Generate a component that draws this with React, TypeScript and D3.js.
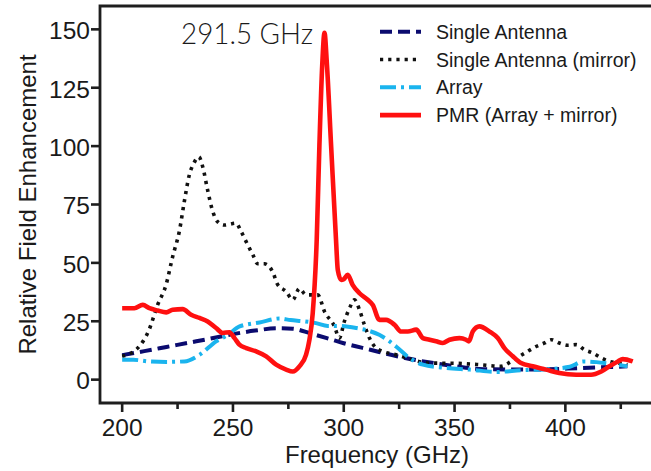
import React from "react";
import * as d3 from "d3";

// ---- data ----
const xTicks = [200, 250, 300, 350, 400];
const xMinorTicks = [225, 275, 325, 375, 425];
const yTicks = [0, 25, 50, 75, 100, 125, 150];

const singleFreq = [200, 210, 220, 230, 240, 250, 260, 270, 277, 285, 293, 300, 312, 324, 336, 350, 363, 385, 408, 428];
const singleVal = [10.5, 12.2, 14, 15.8, 17.6, 19.5, 21, 22, 21.8, 19.8, 17.6, 15.6, 12.8, 10, 7.8, 5.8, 4.5, 4.3, 5, 5.7];

const mirrorFreq = [200, 207, 212, 216, 219.8, 222.8, 225.9, 228, 230.4, 232.3, 234.6, 236.4, 238.6, 240.9, 243, 246, 251.4, 253.7, 256, 259, 261.2, 264.2, 268, 270, 274, 277, 280, 283, 288.3, 291.3, 295.8, 298, 300.3, 302.6, 304.8, 307.1, 309.3, 311.6, 313.9, 317.6, 323.6, 331.1, 338.7, 350, 360, 371, 375.5, 379.3, 383, 386.8, 390.6, 393.6, 397.3, 401.1, 404.9, 408.6, 412.4, 416.2, 419.9, 423.7, 428];
const mirrorVal = [10, 13.5, 21, 32, 40.6, 52.7, 64, 76, 88, 92.6, 95.4, 91, 81, 72, 67.7, 66.2, 67, 63.4, 59, 53.4, 49.6, 49.6, 46, 41, 37.7, 34.2, 39, 36.3, 36.3, 29.2, 22.8, 17.8, 25, 30.6, 34.2, 29.9, 23.5, 17.8, 14.2, 12.1, 10.7, 8.5, 7.1, 7, 6.5, 5.7, 7.8, 10, 12.1, 14.2, 15.7, 17.1, 15.7, 14.7, 15, 12.8, 11.4, 9.3, 7.8, 7.1, 6.4];

const arrayFreq = [200, 205, 212, 220, 228, 235, 242.4, 247.7, 253, 262, 271, 276, 282, 287.5, 292.8, 297, 305.6, 311, 316, 323.6, 329.6, 335.7, 346, 357, 369, 380, 392, 402, 408, 414, 420, 428];
const arrayVal = [8.5, 8.5, 7.8, 7.6, 7.8, 10.7, 16.4, 19.2, 22.8, 24.5, 26.2, 25.5, 25, 24.2, 23, 23, 22.1, 21, 19.2, 14.2, 9.3, 6.4, 5, 4.3, 3.3, 4, 4.5, 5.5, 7.8, 7.5, 6.8, 5.7];

const pmrFreq = [200, 205.5, 209.3, 212.3, 216, 219.9, 222.8, 227.3, 231.1, 234.9, 238.6, 242.4, 245.4, 248.4, 250.7, 252.9, 256, 260.5, 265, 269.5, 274, 277, 280, 283, 284.5, 286, 287.8, 289, 290.3, 291.3, 292.4, 294.3, 296.5, 297.3, 298.8, 300, 301.8, 304, 307.1, 310.8, 313.1, 316.1, 319.1, 322.9, 325.9, 328.9, 332.7, 335.7, 338.7, 341.7, 344.7, 347.7, 352.2, 355.2, 356.5, 358.2, 361.2, 365.8, 369.5, 372.5, 376.3, 380, 385.3, 391.3, 397.3, 404.9, 411.6, 416.2, 419.9, 423.7, 425.9, 430.4];
const pmrVal = [30.6, 30.6, 32, 30.6, 29.6, 28.8, 29.9, 30.2, 27.8, 26.4, 24.9, 22.1, 20, 20.3, 17.8, 15, 13.5, 12.1, 10, 6.4, 4.3, 3.5, 5.7, 10.7, 17, 28.5, 60, 100, 135, 148.5, 135, 100, 60, 47, 42.7, 43, 44.9, 40.6, 37, 34.2, 32, 25.6, 25.6, 23.5, 20.6, 20.6, 21.4, 17.8, 17.1, 16.4, 15.7, 17.1, 17.8, 17.1, 16.4, 20.6, 22.8, 20.6, 17.8, 13.5, 10, 7.1, 5.7, 4.3, 2.8, 2.1, 2.1, 3.5, 5.7, 7.8, 8.8, 7.8];

const seriesNames = ["Single Antenna", "Single Antenna (mirror)", "Array", "PMR (Array + mirror)"];
const annotation = "291.5 GHz";
const xTitle = "Frequency (GHz)";
const yTitle = "Relative Field Enhancement";

// ---- styles ----
const W = 651;
const H = 471;
const left = 100;
const top = 6;
const bottom = 403;
const right = 654;
const FONT = "'Liberation Sans', Arial, Helvetica, sans-serif";
const AXIS = "#1e1e1e";

const styles = [
  { color: "#0b0b6f", width: 4, dash: "12 6" },
  { color: "#111111", width: 3.6, dash: "3.2 5" },
  { color: "#1ab4ee", width: 4, dash: "16 5 3 5" },
  { color: "#ff1010", width: 4.6, dash: "none" },
];

export default function App() {
  const x = d3.scaleLinear().domain([190, 440]).range([left, right]);
  const y = d3.scaleLinear().domain([-10, 160]).range([bottom, top]);

  const line = d3
    .line<[number, number]>()
    .x((d) => x(d[0]))
    .y((d) => y(d[1]))
    .curve(d3.curveMonotoneX);

  const zip = (f: number[], v: number[]) => f.map((fv, i) => [fv, v[i]] as [number, number]);
  const data = [
    zip(singleFreq, singleVal),
    zip(mirrorFreq, mirrorVal),
    zip(arrayFreq, arrayVal),
    zip(pmrFreq, pmrVal),
  ];

  const legendX0 = 380;
  const legendX1 = 421;
  const legendTextX = 436;
  const legendY0 = 31.7;
  const legendDy = 27.8;

  return (
    <svg
      width={W}
      height={H}
      style={{ position: "absolute", left: 0, top: 0, background: "#fff" }}
      fontFamily={FONT}
    >
      <rect x={0} y={0} width={W} height={H} fill="#fff" />
      <defs>
        <clipPath id="plot">
          <rect x={left} y={top} width={right - left} height={bottom - top} />
        </clipPath>
      </defs>

      {/* series */}
      <g clipPath="url(#plot)">
        {data.map((d, i) => (
          <path
            key={i}
            d={line(d) || ""}
            fill="none"
            stroke={styles[i].color}
            strokeWidth={styles[i].width}
            strokeDasharray={styles[i].dash}
            strokeLinejoin="round"
          />
        ))}
      </g>

      {/* frame */}
      <path
        d={`M${W + 5},${top} H${left} V${bottom} H${W + 5}`}
        fill="none"
        stroke={AXIS}
        strokeWidth={2.8}
      />

      {/* y ticks */}
      {yTicks.map((t) => (
        <g key={"y" + t}>
          <line x1={left - 9} x2={left} y1={y(t)} y2={y(t)} stroke={AXIS} strokeWidth={2.6} />
          <text x={left - 10} y={y(t)} dy="0.4em" textAnchor="end" fontSize={24.5} fill="#1a1a1a">
            {t}
          </text>
        </g>
      ))}

      {/* x ticks */}
      {xTicks.map((t) => (
        <g key={"x" + t}>
          <line x1={x(t)} x2={x(t)} y1={bottom} y2={bottom + 9} stroke={AXIS} strokeWidth={2.6} />
          <text x={x(t)} y={436} textAnchor="middle" fontSize={24.5} fill="#1a1a1a">
            {t}
          </text>
        </g>
      ))}
      {xMinorTicks.map((t) => (
        <line key={"m" + t} x1={x(t)} x2={x(t)} y1={bottom} y2={bottom + 6} stroke={AXIS} strokeWidth={2.6} />
      ))}

      {/* axis titles */}
      <text x={(left + right) / 2} y={463} textAnchor="middle" fontSize={24} fill="#1a1a1a">
        {xTitle}
      </text>
      <text
        transform={`translate(36,${(top + bottom) / 2}) rotate(-90)`}
        textAnchor="middle"
        fontSize={24}
        fill="#1a1a1a"
      >
        {yTitle}
      </text>

      {/* annotation */}
      <text
        x={181}
        y={44}
        fontSize={30}
        fontFamily="Lato, 'Open Sans', sans-serif"
        fontWeight={300}
        fill="#1a1a1a"
        textLength={132}
        lengthAdjust="spacingAndGlyphs"
      >
        {annotation}
      </text>

      {/* legend */}
      {seriesNames.map((name, i) => {
        const ly = legendY0 + i * legendDy;
        return (
          <g key={"l" + i}>
            <line
              x1={legendX0}
              x2={legendX1}
              y1={ly}
              y2={ly}
              stroke={styles[i].color}
              strokeWidth={styles[i].width}
              strokeDasharray={styles[i].dash}
            />
            <text x={legendTextX} y={ly} dy="0.36em" fontSize={19.5} fill="#1a1a1a">
              {name}
            </text>
          </g>
        );
      })}
    </svg>
  );
}
